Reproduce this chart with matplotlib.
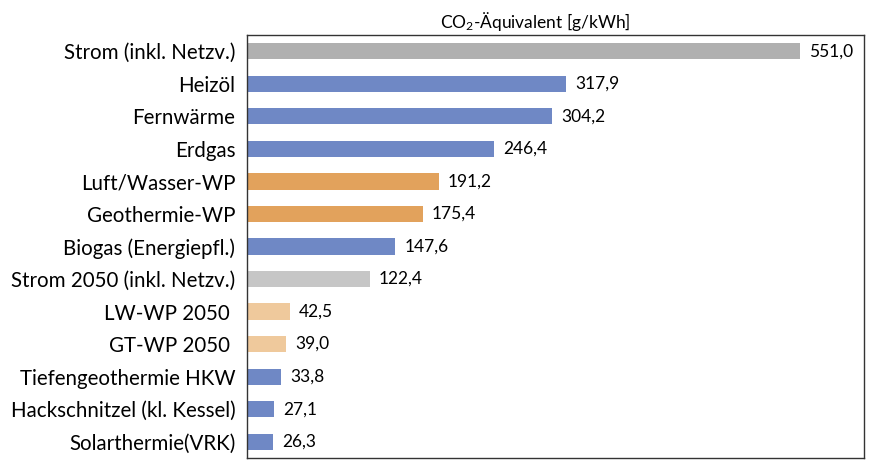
import matplotlib
matplotlib.use('Agg')
import matplotlib.pyplot as plt

plt.rcParams['font.family'] = ['Lato', 'DejaVu Sans']
plt.rcParams['mathtext.default'] = 'regular'

labels = ['Strom (inkl. Netzv.)', 'Heizöl', 'Fernwärme', 'Erdgas', 'Luft/Wasser-WP',
          'Geothermie-WP', 'Biogas (Energiepfl.)', 'Strom 2050 (inkl. Netzv.)',
          'LW-WP 2050 ', 'GT-WP 2050 ', 'Tiefengeothermie HKW',
          'Hackschnitzel (kl. Kessel)', 'Solarthermie(VRK)']
values = [551.0, 317.9, 304.2, 246.4, 191.2, 175.4, 147.6, 122.4, 42.5, 39.0, 33.8, 27.1, 26.3]
colors = ['#b0b0b0', '#6f88c5', '#6f88c5', '#6f88c5', '#e2a25c', '#e2a25c', '#6f88c5',
          '#c6c6c6', '#efc99c', '#efc99c', '#6f88c5', '#6f88c5', '#6f88c5']

fig = plt.figure(figsize=(8.72, 4.66), dpi=100)
ax = fig.add_axes([0.2833, 0.0172, 0.7075, 0.9077])

y = list(range(len(values)))
ax.barh(y, values, height=0.5, color=colors)
for yi, v in zip(y, values):
    ax.text(v + 9, yi, ('%.1f' % v).replace('.', ','), va='center', ha='left', fontsize=12.5)

ax.set_xlim(0, 615)
ax.set_ylim(len(values) - 0.5, -0.5)
ax.set_yticks(y)
ax.set_yticklabels(labels, fontsize=14.8)
ax.tick_params(axis='y', length=0, pad=8.5)
ax.set_xticks([])
for s in ax.spines.values():
    s.set_linewidth(1.0)
    s.set_color('#333333')
ax.set_title('CO$_2$-Äquivalent [g/kWh]', fontsize=12.5, pad=5, x=0.467)

fig.savefig('out.png', dpi=100)
